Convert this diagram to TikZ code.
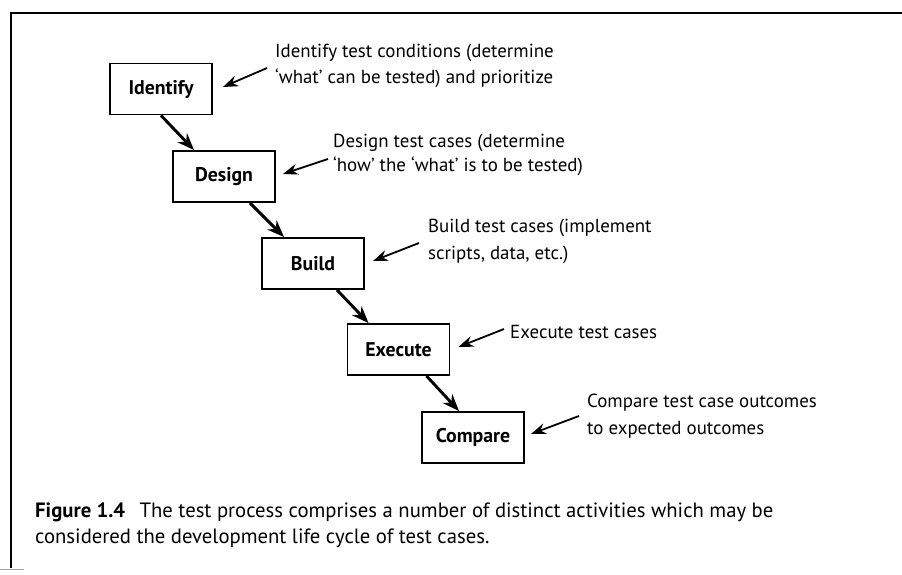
\documentclass[tikz,border=0pt]{standalone}
\usepackage{fontspec}
\setmainfont{PT Sans}
\usetikzlibrary{arrows.meta}
\begin{document}
\begin{tikzpicture}[x=1pt,y=-1pt,
  stepbox/.style={draw=black, line width=1.9pt, minimum width=102pt, minimum height=51pt,
    inner sep=0pt, font=\fontsize{19.8}{22}\selectfont\bfseries},
  note/.style={anchor=base west, inner sep=0pt, font=\fontsize{18.9}{22}\selectfont},
  caption/.style={anchor=base west, inner sep=0pt, font=\fontsize{20.7}{24}\selectfont},
  flow/.style={line width=2.9pt, -{Stealth[length=17pt, width=13pt]}},
  pointer/.style={line width=1.8pt, -{Stealth[length=15pt, width=11pt]}},
]
\useasboundingbox (0,0) rectangle (902,574);
\fill[white] (0,0) rectangle (902,574);

% frame round the figure
\draw[line width=2.4pt] (902,13) -- (11,13) -- (11,568);
\draw[black!35, line width=1pt] (0,569) -- (24,569);

% the five activities
\node[stepbox] (identify) at (161,89)    {Identify};
\node[stepbox] (design)   at (224,176.5) {Design};
\node[stepbox] (build)    at (313,263.5) {Build};
\node[stepbox] (execute)  at (398.5,349.5) {Execute};
\node[stepbox] (compare)  at (473,437.5) {Compare};

% flow from one activity to the next
\draw[flow] (identify.south) -- ([xshift=22pt]design.north west);
\draw[flow] ([xshift=26pt]design.south) -- ([xshift=23pt]build.north west);
\draw[flow] ([xshift=24pt]build.south) -- ([xshift=22pt]execute.north west);
\draw[flow] ([xshift=28pt]execute.south) -- ([xshift=38pt]compare.north west);

% notes
\node[note] (nid1) at (275,57)  {Identify test conditions (determine};
\node[note] (nid2) at (275,83)  {‘what’ can be tested) and prioritize};
\node[note] (nde1) at (333,147) {Design test cases (determine};
\node[note] (nde2) at (333,171) {‘how’ the ‘what’ is to be tested)};
\node[note] (nbu1) at (428,232) {Build test cases (implement};
\node[note] (nbu2) at (428,259) {scripts, data, etc.)};
\node[note] (nex1) at (510,338) {Execute test cases};
\node[note] (nco1) at (587,407) {Compare test case outcomes};
\node[note] (nco2) at (587,434) {to expected outcomes};

% pointers from the notes to the boxes
\coordinate (tid) at (267,68);
\coordinate (tde) at (328,159);
\coordinate (tbu) at (419,243);
\coordinate (tex) at (504,329);
\coordinate (tco) at (579,416);
\draw[pointer] (tid) -- ([shift={(10,-2)}]identify.east);
\draw[pointer] (tde) -- ([shift={(7,-2.5)}]design.east);
\draw[pointer] (tbu) -- ([shift={(8,-2.5)}]build.east);
\draw[pointer] (tex) -- ([shift={(8,-2.5)}]execute.east);
\draw[pointer] (tco) -- ([shift={(6,-3.5)}]compare.east);

% caption
\node[caption] (cap1) at (35,517) {\textbf{Figure 1.4}\hspace{0.7em}The test process comprises a number of distinct activities which may be};
\node[caption] (cap2) at (35,543) {considered the development life cycle of test cases.};
\end{tikzpicture}
\end{document}
